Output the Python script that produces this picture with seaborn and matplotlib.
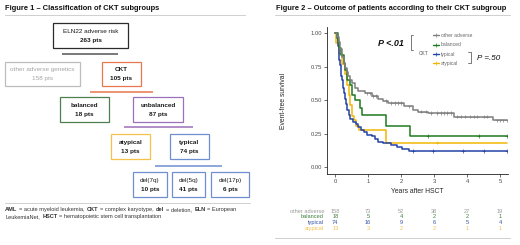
import matplotlib
matplotlib.use("Agg")
import matplotlib.pyplot as plt
from matplotlib.patches import Rectangle
from matplotlib.lines import Line2D
import numpy as np
import pandas as pd
import seaborn as sns

# ---- data -------------------------------------------------------------
groups = ["other adverse", "balanced", "typical", "atypical"]
line_colors = ["#7f7f7f", "#1f7a1f", "#2443a6", "#f2b705"]
table_colors = ["#9a9a9a", "#3d7f3d", "#3553a8", "#f2c14e"]

other_t = [0, 0.05, 0.1, 0.15, 0.2, 0.25, 0.3, 0.35, 0.4, 0.45, 0.5, 0.6, 0.7, 0.9,
           1.1, 1.3, 1.45, 1.6, 2.1, 2.35, 2.5, 2.8, 3.6, 4.77, 5.22]
other_s = [1.0, 0.97, 0.93, 0.88, 0.82, 0.77, 0.74, 0.71, 0.68, 0.65, 0.63, 0.59, 0.57, 0.55,
           0.53, 0.51, 0.495, 0.478, 0.453, 0.43, 0.415, 0.403, 0.378, 0.349, 0.349]
other_cens = [0.95, 1.05, 1.15, 1.25, 1.55, 1.7, 1.8, 1.9, 2.0, 2.25, 2.6, 2.75, 2.9, 3.1,
              3.2, 3.3, 3.4, 3.5, 3.7, 3.8, 3.95, 4.1, 4.2, 4.3, 4.5, 4.6, 4.9, 5.0, 5.1, 5.2]

balanced_t = [0, 0.08, 0.12, 0.18, 0.25, 0.3, 0.36, 0.45, 0.5, 0.6, 0.75, 0.82, 1.54, 2.27, 5.22]
balanced_s = [1.0, 0.944, 0.889, 0.833, 0.778, 0.722, 0.65, 0.611, 0.54, 0.5, 0.444, 0.389,
              0.311, 0.233, 0.233]
balanced_cens = [2.8, 4.35, 5.2]

typical_t = [0, 0.05, 0.08, 0.1, 0.12, 0.14, 0.16, 0.18, 0.2, 0.22, 0.24, 0.27, 0.3, 0.33,
             0.37, 0.41, 0.46, 0.55, 0.62, 0.7, 0.78, 0.86, 0.95, 1.1, 1.2, 1.3, 1.45, 1.7,
             1.86, 2.02, 2.25, 5.22]
typical_s = [1.0, 0.96, 0.9, 0.85, 0.8, 0.76, 0.72, 0.68, 0.65, 0.62, 0.59, 0.55, 0.51, 0.47,
             0.43, 0.39, 0.36, 0.34, 0.32, 0.30, 0.28, 0.26, 0.24, 0.23, 0.21, 0.19, 0.18,
             0.165, 0.15, 0.135, 0.12, 0.12]
typical_cens = [2.36, 2.96, 3.87, 4.5, 5.2]

atypical_t = [0, 0.03, 0.12, 0.2, 0.3, 0.36, 0.42, 0.46, 0.52, 0.56, 0.62, 0.72, 1.53, 5.22]
atypical_s = [1.0, 0.923, 0.846, 0.769, 0.692, 0.615, 0.538, 0.462, 0.385, 0.35, 0.31,
              0.275, 0.183, 0.183]
atypical_cens = [3.1]

risk_times = [0, 1, 2, 3, 4, 5]
risk_other = [158, 73, 52, 38, 27, 19]
risk_balanced = [18, 5, 4, 2, 2, 1]
risk_typical = [74, 16, 9, 6, 5, 4]
risk_atypical = [13, 3, 2, 2, 1, 1]

box_names = ["ELN22 adverse risk", "other adverse genetics", "CKT", "balanced", "unbalanced",
             "atypical", "typical", "del(7q)", "del(5q)", "del(17p)"]
box_counts = [263, 158, 105, 18, 87, 13, 74, 10, 41, 6]

footnote_1 = [("AML", True), ("= acute myeloid leukemia,", False), ("CKT", True),
              ("= complex karyotype,", False), ("del", True), ("= deletion,", False),
              ("ELN", True), ("= European", False)]
footnote_2 = [("LeukemiaNet,", False), ("HSCT", True),
              ("= hematopoietic stem cell transplantation", False)]

# ---- style -------------------------------------------------------------
sns.set_theme(style="ticks")
plt.rcParams["font.family"] = ["Liberation Sans", "DejaVu Sans"]

fig = plt.figure(figsize=(5.2, 2.45), dpi=100)

# ---- KM panel ----------------------------------------------------------
ax = fig.add_axes([326.7 / 520, 1 - 174 / 245, (508 - 326.7) / 520, (174 - 27) / 245])
curves = [(other_t, other_s), (balanced_t, balanced_s), (typical_t, typical_s),
          (atypical_t, atypical_s)]
cens = [other_cens, balanced_cens, typical_cens, atypical_cens]
rows = []
for g, (tt, ss) in zip(groups, curves):
    rows += [{"group": g, "t": a, "surv": b} for a, b in zip(tt, ss)]
km = pd.DataFrame(rows)
crow = []
for g, (tt, ss), cc in zip(groups, curves, cens):
    idx = np.searchsorted(tt, cc, side="right") - 1
    crow += [{"group": g, "t": a, "surv": ss[i]} for a, i in zip(cc, idx)]
cdf = pd.DataFrame(crow)

palette = dict(zip(groups, line_colors))
for g in groups[::-1]:
    sub = km[km.group == g]
    ax.step(sub.t, sub.surv, where="post", color=palette[g], lw=1.1)
sns.scatterplot(data=cdf, x="t", y="surv", hue="group", palette=palette, marker="+",
                s=6, linewidth=0.5, legend=False, ax=ax)

ax.set_xlim(-0.26, 5.24)
ax.set_ylim(-0.05, 1.045)
ax.set_xticks(risk_times)
ax.set_yticks([0, 0.25, 0.5, 0.75, 1.0])
ax.set_yticklabels(["0.00", "0.25", "0.50", "0.75", "1.00"])
ax.tick_params(labelsize=4.2, length=2, width=0.5, pad=1.5, colors="#333333",
               labelcolor="#4d4d4d")
for s in ["top", "right"]:
    ax.spines[s].set_visible(False)
for s in ["left", "bottom"]:
    ax.spines[s].set_linewidth(0.6)
    ax.spines[s].set_color("#222222")
ax.set_xlabel("Years after HSCT", fontsize=4.9, labelpad=3)
ax.set_ylabel("Event-free survival", fontsize=4.9, labelpad=17)
ax.patch.set_alpha(0)

handles = [Line2D([], [], color=c, lw=1.0, marker="+", markersize=2.5, markeredgewidth=0.5)
           for c in line_colors]
leg = ax.legend(handles, groups, loc="center left", frameon=False, fontsize=3.6,
                handlelength=1.3, handletextpad=0.4, labelspacing=0.85,
                bbox_to_anchor=(430 / 520, 1 - 49.5 / 245), bbox_transform=fig.transFigure,
                borderpad=0)
for t in leg.get_texts():
    t.set_color("#666666")

# ---- overlay in pixel coordinates ---------------------------------------
ov = fig.add_axes([0, 0, 1, 1], zorder=5)
ov.set_xlim(0, 520)
ov.set_ylim(245, 0)
ov.axis("off")
ov.patch.set_alpha(0)

ov.text(5, 8.5, "Figure 1 \u2013 Classification of CKT subgroups", fontsize=5.4,
        fontweight="bold", va="center", ha="left", color="#111111")
ov.text(276, 8.5, "Figure 2 \u2013 Outcome of patients according to their CKT subgroup",
        fontsize=5.4, fontweight="bold", va="center", ha="left", color="#111111")
for x0, x1, y in [(5, 245, 15.5), (5, 250, 203), (275, 510, 15.5), (275, 510, 238)]:
    ov.plot([x0, x1], [y, y], color="#cfcfcf", lw=0.7)

box_layout = [(53, 23, 128, 48), (5, 62, 80, 86), (102, 62, 141, 86), (60, 97, 109, 122),
              (133, 97, 183, 122), (111, 134, 150, 159), (170, 134, 209, 159),
              (133, 172, 167, 197), (172, 172, 205, 197), (211, 172, 249, 197)]
box_edges = ["#2b2b2b", "#bdbdbd", "#e8774d", "#4f7f4f", "#9a70b8", "#f4c24a", "#6f8fd0",
             "#6f8fd0", "#6f8fd0", "#6f8fd0"]
name_bold = [False, False, True, True, True, True, True, False, False, False]
for (x0, y0, x1, y1), name, n, ec, nb in zip(box_layout, box_names, box_counts, box_edges,
                                             name_bold):
    ov.add_patch(Rectangle((x0, y0), x1 - x0, y1 - y0, fill=False, ec=ec, lw=0.9))
    tc = "#a5a5a5" if name.startswith("other") else "#1a1a1a"
    cy = (y0 + y1) / 2
    ov.text((x0 + x1) / 2, cy - 4.2, name, fontsize=4.6, ha="center", va="center", color=tc,
            fontweight="bold" if nb else "normal")
    ov.text((x0 + x1) / 2, cy + 4.8, f"{n} pts", fontsize=4.6, ha="center", va="center",
            color=tc, fontweight="normal" if name.startswith("other") else "bold")

for x0, x1, y, c in [(62, 118, 54, "#555555"), (90, 153, 92, "#e8774d"),
                     (124, 193, 127, "#9a70b8"), (155, 222, 166, "#6f8fd0")]:
    ov.plot([x0, x1], [y, y], color=c, lw=1.1, solid_capstyle="butt")

# footnote, written piece by piece so bold words sit inline
renderer = fig.canvas.get_renderer()


def text_width(s, bold, size):
    t = ov.text(0, 0, s, fontsize=size, fontweight="bold" if bold else "normal")
    w = t.get_window_extent(renderer).width
    t.remove()
    return w


fn_size = 4.1
space = text_width("a a", False, fn_size) - text_width("aa", False, fn_size)
for parts, y in [(footnote_1, 209.5), (footnote_2, 216.5)]:
    x = 5
    for s, b in parts:
        ov.text(x, y, s, fontsize=fn_size, va="center", ha="left", color="#333333",
                fontweight="bold" if b else "normal")
        x += text_width(s, b, fn_size) + space * (1.4 if s.endswith(",") else 1.0)

# p-value annotations
ov.text(404, 44, "P <.01", fontsize=6.5, fontweight="bold", ha="right", va="center",
        style="italic", color="#111111")
ov.plot([413, 411, 411, 413], [35, 35, 50, 50], color="#444444", lw=0.5)
ov.text(419, 53.5, "CKT", fontsize=3.5, ha="left", va="center", color="#555555")
ov.plot([468, 471, 471, 468], [52, 52, 63, 63], color="#444444", lw=0.5)
ov.text(477, 58.5, "P =.50", fontsize=5.8, style="italic", ha="left", va="center",
        color="#111111")

# risk table
risk_rows = [risk_other, risk_balanced, risk_typical, risk_atypical]
for k, (g, vals, c) in enumerate(zip(groups, risk_rows, table_colors)):
    y = 211 + 5.8 * k
    ov.text(324, y, g, fontsize=4.1, ha="right", va="center", color=c)
    for t, v in zip(risk_times, vals):
        xp = ax.transData.transform((t, 0))[0]
        ov.text(xp, y, str(v), fontsize=4.1, ha="center", va="center", color=c)

fig.savefig("out.png", dpi=100)
